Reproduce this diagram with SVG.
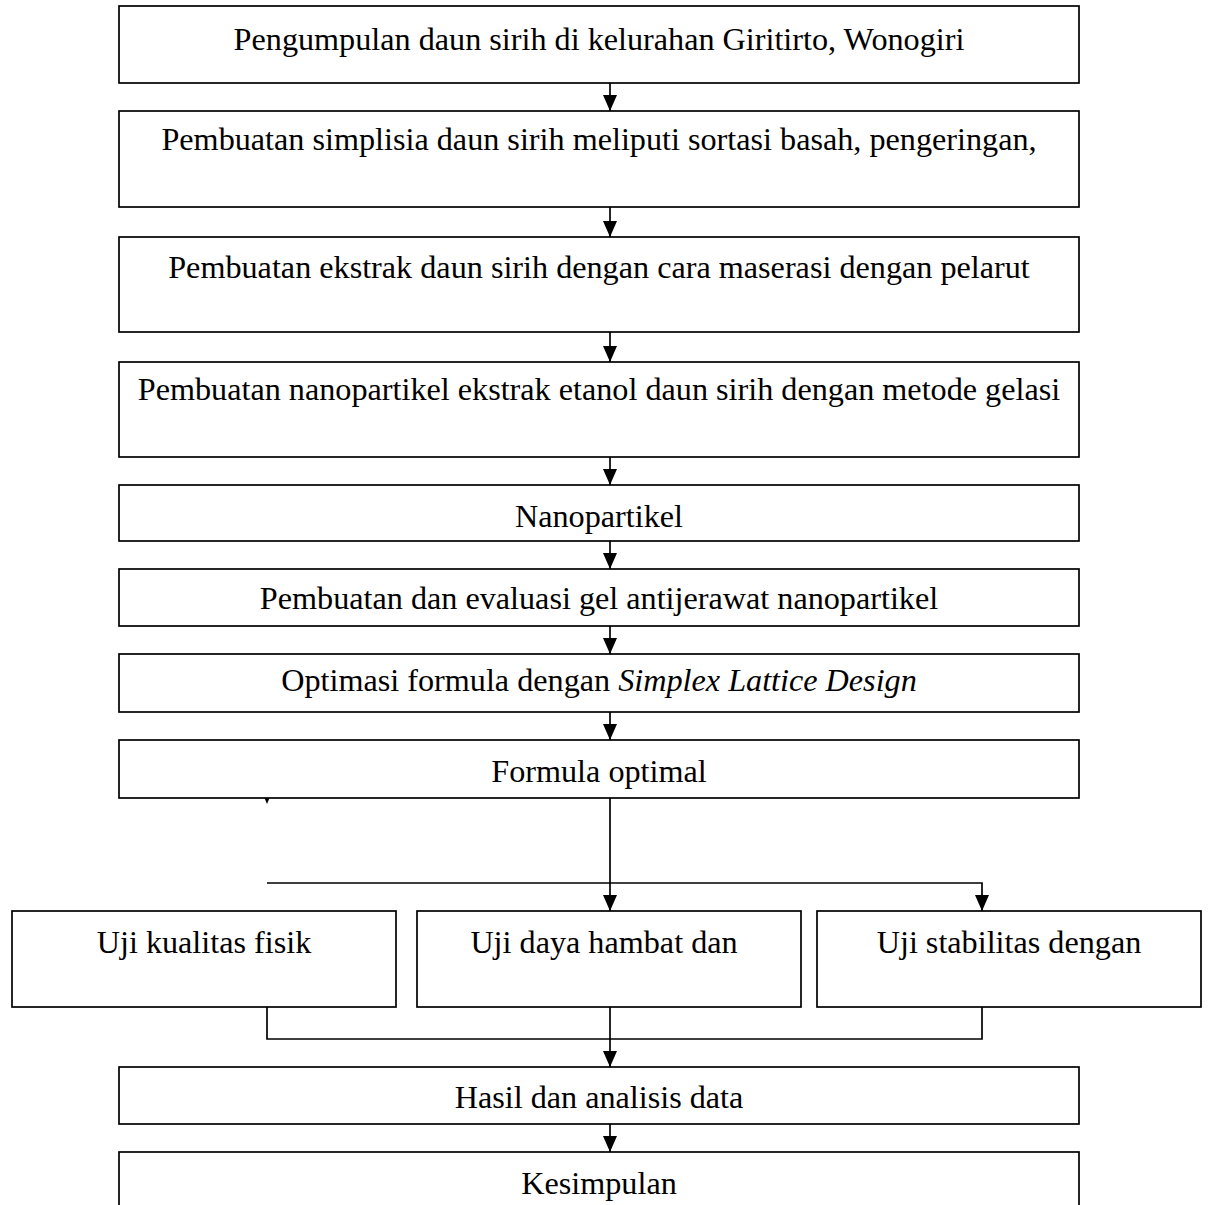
<svg xmlns="http://www.w3.org/2000/svg" width="1208" height="1205" viewBox="0 0 1208 1205">
<style>
.box{fill:#fff;stroke:#000;stroke-width:1.7}
.t{font-family:"Liberation Serif","Times New Roman",serif;font-size:32.2px;fill:#000;text-anchor:middle}
.c{fill:none;stroke:#000;stroke-width:1.7}
.i{font-style:italic}
</style>
<defs>
<marker id="ah" viewBox="0 0 16 14" refX="16" refY="7" markerWidth="16" markerHeight="14" markerUnits="userSpaceOnUse" orient="auto">
<path d="M0,0 L16,7 L0,14 Z" fill="#000"/>
</marker>
</defs>
<rect x="0" y="0" width="1208" height="1205" fill="#fff"/>
<g id="n1"><rect class="box" x="119" y="6" width="960" height="77"/><text class="t" x="599" y="50">Pengumpulan daun sirih di kelurahan Giritirto, Wonogiri</text></g>
<g id="n2"><rect class="box" x="119" y="111" width="960" height="96"/><text class="t" x="599" y="150">Pembuatan simplisia daun sirih meliputi sortasi basah, pengeringan,</text></g>
<g id="n3"><rect class="box" x="119" y="237" width="960" height="95"/><text class="t" x="599" y="278">Pembuatan ekstrak daun sirih dengan cara maserasi dengan pelarut</text></g>
<g id="n4"><rect class="box" x="119" y="362" width="960" height="95"/><text class="t" x="599" y="400">Pembuatan nanopartikel ekstrak etanol daun sirih dengan metode gelasi</text></g>
<g id="n5"><rect class="box" x="119" y="485" width="960" height="56"/><text class="t" x="599" y="527">Nanopartikel</text></g>
<g id="n6"><rect class="box" x="119" y="569" width="960" height="57"/><text class="t" x="599" y="609">Pembuatan dan evaluasi gel antijerawat nanopartikel</text></g>
<g id="n7"><rect class="box" x="119" y="654" width="960" height="58"/><text class="t" x="599" y="691">Optimasi formula dengan <tspan class="i">Simplex Lattice Design</tspan></text></g>
<g id="n8"><rect class="box" x="119" y="740" width="960" height="58"/><text class="t" x="599" y="782">Formula optimal</text></g>
<g id="n9"><rect class="box" x="12" y="911" width="384" height="96"/><text class="t" x="204" y="953">Uji kualitas fisik</text></g>
<g id="n10"><rect class="box" x="417" y="911" width="384" height="96"/><text class="t" x="604" y="953">Uji daya hambat dan</text></g>
<g id="n11"><rect class="box" x="817" y="911" width="384" height="96"/><text class="t" x="1009" y="953">Uji stabilitas dengan</text></g>
<g id="n12"><rect class="box" x="119" y="1067" width="960" height="57"/><text class="t" x="599" y="1108">Hasil dan analisis data</text></g>
<g id="n13"><rect class="box" x="119" y="1152" width="960" height="70"/><text class="t" x="599" y="1194">Kesimpulan</text></g>
<g id="connectors">
<line class="c" x1="610" y1="83" x2="610" y2="111" marker-end="url(#ah)"/>
<line class="c" x1="610" y1="207" x2="610" y2="237" marker-end="url(#ah)"/>
<line class="c" x1="610" y1="332" x2="610" y2="362" marker-end="url(#ah)"/>
<line class="c" x1="610" y1="457" x2="610" y2="485" marker-end="url(#ah)"/>
<line class="c" x1="610" y1="541" x2="610" y2="569" marker-end="url(#ah)"/>
<line class="c" x1="610" y1="626" x2="610" y2="654" marker-end="url(#ah)"/>
<line class="c" x1="610" y1="712" x2="610" y2="740" marker-end="url(#ah)"/>
<line class="c" x1="610" y1="798" x2="610" y2="911" marker-end="url(#ah)"/>
<polyline class="c" points="267,883 982,883 982,911" marker-end="url(#ah)"/>
<polygon points="264.5,798 269.5,798 267,804" fill="#000"/>
<polyline class="c" points="267,1007 267,1039 982,1039 982,1007"/>
<line class="c" x1="610" y1="1007" x2="610" y2="1067" marker-end="url(#ah)"/>
<line class="c" x1="610" y1="1124" x2="610" y2="1152" marker-end="url(#ah)"/>
</g>
</svg>
